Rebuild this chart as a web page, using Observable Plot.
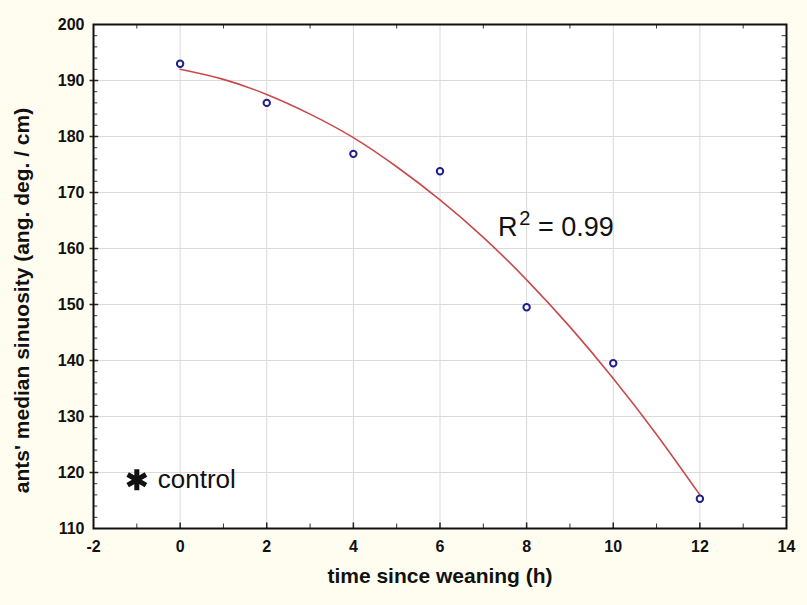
<!DOCTYPE html>
<html>
<head>
<meta charset="utf-8">
<script src="https://cdn.jsdelivr.net/npm/d3@7"></script>
<script src="https://cdn.jsdelivr.net/npm/@observablehq/plot@0.6"></script>
<style>
  html, body { margin: 0; padding: 0; background: #fffdf0; }
  #chart { width: 807px; height: 605px; }
  svg { display: block; }
</style>
</head>
<body>
<div id="chart"></div>
<script>
// Tick values
const xTicks = [-2, 0, 2, 4, 6, 8, 10, 12, 14];
const yTicks = [110, 120, 130, 140, 150, 160, 170, 180, 190, 200];
const xMinor = [-1, 1, 3, 5, 7, 9, 11, 13];
const yMinor = [112, 114, 116, 118, 122, 124, 126, 128, 132, 134, 136, 138, 142, 144, 146, 148,
                152, 154, 156, 158, 162, 164, 166, 168, 172, 174, 176, 178, 182, 184, 186, 188,
                192, 194, 196, 198];
const xGrid = [0, 2, 4, 6, 8, 10, 12];
const yGrid = [120, 130, 140, 150, 160, 170, 180, 190];

// Observed data points
const times = [0, 2, 4, 6, 8, 10, 12];
const sinuosity = [193.0, 186.0, 176.9, 173.8, 149.5, 139.5, 115.3];

// Fitted curve
const fitTimes = [0, 1, 2, 3, 4, 5, 6, 7, 8, 9, 10, 11, 12];
const fitValues = [192.0, 190.2, 187.5, 184.0, 179.8, 174.6, 168.7, 162.0, 154.4, 146.0, 136.8, 126.8, 116.0];

// Annotations
const controlLabel = "control";
const controlPos = {x: -1, y: 118.7};
const r2Text = "= 0.99";

const points = times.map((t, i) => ({t, v: sinuosity[i]}));
const fit = fitTimes.map((t, i) => ({t, v: fitValues[i]}));

const font = "'Liberation Sans', Arial, sans-serif";

const chart = Plot.plot({
  width: 807,
  height: 605,
  marginLeft: 93,
  marginRight: 21,
  marginTop: 24,
  marginBottom: 77,
  style: {background: "transparent", fontFamily: font, color: "#111"},
  x: {domain: [-2, 14]},
  y: {domain: [110, 200]},
  marks: [
    Plot.frame({fill: "white", stroke: null}),
    Plot.ruleX(xGrid, {stroke: "#dadada", strokeWidth: 1}),
    Plot.ruleY(yGrid, {stroke: "#dadada", strokeWidth: 1}),
    // minor inward ticks
    Plot.ruleX(xMinor, {y1: 110, y2: 110.8, stroke: "#333", strokeWidth: 1}),
    Plot.ruleX(xMinor, {y1: 200, y2: 199.2, stroke: "#333", strokeWidth: 1}),
    Plot.ruleX(xGrid, {y1: 110, y2: 111, stroke: "#222", strokeWidth: 1.5}),
    Plot.ruleY(yMinor, {x1: -2, x2: -1.9, stroke: "#333", strokeWidth: 1}),
    Plot.ruleY(yMinor, {x1: 14, x2: 13.9, stroke: "#333", strokeWidth: 1}),
    Plot.ruleY(yGrid, {x1: -2.08, x2: -1.88, stroke: "#222", strokeWidth: 1.5}),
    Plot.ruleY(yGrid, {x1: 14, x2: 13.88, stroke: "#222", strokeWidth: 1.5}),
    Plot.frame({stroke: "#111", strokeWidth: 2}),
    Plot.line(fit, {x: "t", y: "v", stroke: "#c84a4a", strokeWidth: 1.6, curve: "natural"}),
    Plot.dot(points, {x: "t", y: "v", r: 3.2, stroke: "#1f1f8c", strokeWidth: 2, fill: "white"}),
    Plot.axisX(xTicks, {tickSize: 0, tickPadding: 12, fontSize: 16, fontWeight: "bold", label: null, tickFormat: d => String(d)}),
    Plot.axisY(yTicks, {tickSize: 0, tickPadding: 9, fontSize: 16, fontWeight: "bold", label: null, tickFormat: d => String(d)}),
    Plot.text(["time since weaning (h)"], {frameAnchor: "bottom", dy: 54, fontSize: 21, fontWeight: "bold", fill: "#111"}),
    Plot.text(["ants' median sinuosity (ang. deg. / cm)"], {frameAnchor: "left", textAnchor: "middle", dx: -71, dy: 24, rotate: -90, fontSize: 21, fontWeight: "bold", fill: "#111"}),
    Plot.dot([controlPos], {x: "x", y: "y", symbol: "asterisk", r: 10, stroke: "#111", strokeWidth: 5}),
    Plot.text([controlLabel], {x: controlPos.x, y: controlPos.y, dx: 21, textAnchor: "start", fontSize: 26, fill: "#111"}),
    Plot.text(["R"], {x: 7.34, y: 163.7, textAnchor: "start", fontSize: 27, fill: "#111"}),
    Plot.text(["2"], {x: 7.83, y: 165.4, textAnchor: "start", fontSize: 20, fill: "#111"}),
    Plot.text([r2Text], {x: 8.26, y: 163.7, textAnchor: "start", fontSize: 27, fill: "#111"})
  ]
});
document.getElementById("chart").appendChild(chart);
</script>
</body>
</html>
